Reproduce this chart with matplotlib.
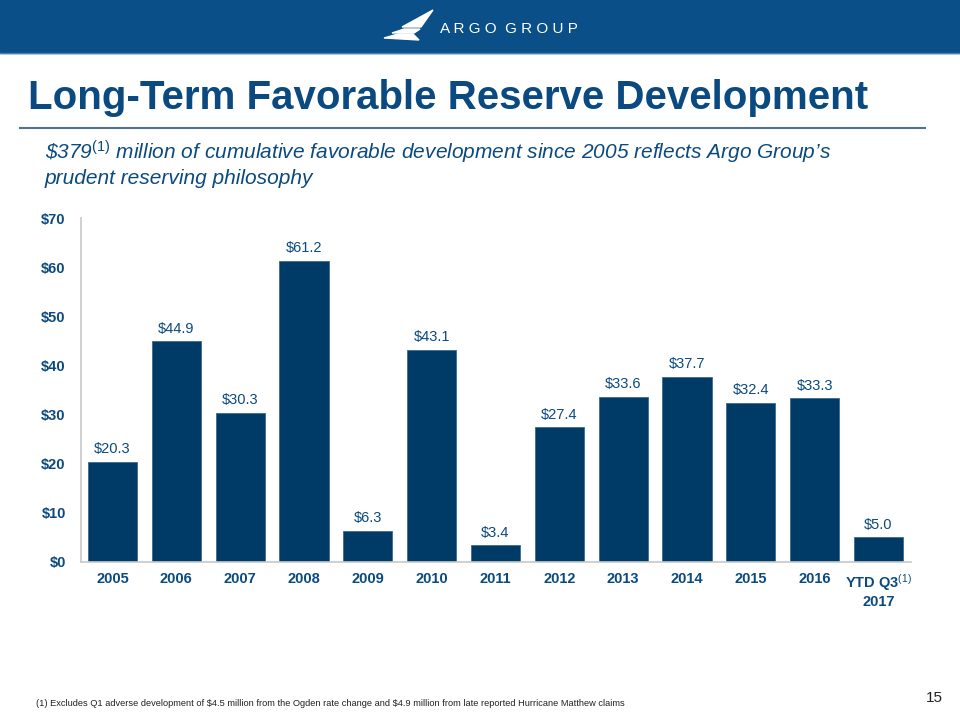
import matplotlib.pyplot as plt
from matplotlib.patches import Rectangle, Polygon
from matplotlib.lines import Line2D

plt.rcParams['font.family'] = ['Liberation Sans', 'DejaVu Sans']
plt.rcParams['mathtext.fontset'] = 'custom'
plt.rcParams['mathtext.rm'] = 'Liberation Sans'
plt.rcParams['mathtext.it'] = 'Liberation Sans:italic'
plt.rcParams['mathtext.bf'] = 'Liberation Sans:bold'

categories = ['2005', '2006', '2007', '2008', '2009', '2010', '2011', '2012',
              '2013', '2014', '2015', '2016', r'YTD Q3$^{\mathit{(1)}}$' + '\n2017']
values = [20.3, 44.9, 30.3, 61.2, 6.3, 43.1, 3.4, 27.4, 33.6, 37.7, 32.4, 33.3, 5.0]
yticks = [0, 10, 20, 30, 40, 50, 60, 70]

navy = '#003A66'
text_blue = '#0B4A80'

fig = plt.figure(figsize=(9.6, 7.2), dpi=100)

# header band
fig.patches.append(Rectangle((0, 1 - 53 / 720), 1, 53 / 720, transform=fig.transFigure,
                             color='#0A4F88', zorder=0))
fig.lines.append(Line2D([0, 1], [1 - 53 / 720, 1 - 53 / 720], transform=fig.transFigure,
                        color='#4A7FA8', lw=1))
# simple logo mark
for pts in [[(402, 27), (433, 10), (421, 27)],
            [(392, 33), (404, 29), (420, 29), (414, 33)],
            [(384, 38), (398, 34), (413, 34), (419, 40)]]:
    fig.patches.append(Polygon([(x / 960, 1 - y / 720) for x, y in pts], closed=True,
                               transform=fig.transFigure, color='white', zorder=1))
fig.text(440 / 960, 1 - 29 / 720, 'A R G O  G R O U P', color='white', fontsize=11,
         va='center', ha='left')

fig.text(28 / 960, 1 - 98 / 720, 'Long-Term Favorable Reserve Development', color=text_blue,
         fontsize=29, fontweight='bold', va='center', ha='left')
fig.lines.append(Line2D([20 / 960, 925 / 960], [1 - 128 / 720, 1 - 128 / 720],
                        transform=fig.transFigure, color='#4F7192', lw=1.5))
fig.text(45 / 960, 1 - 152 / 720,
         r"\$379$^{\mathit{(1)}}$ million of cumulative favorable development since 2005 reflects Argo Group’s",
         color=text_blue, fontsize=15, style='italic', va='center', ha='left')
fig.text(45 / 960, 1 - 178 / 720, 'prudent reserving philosophy',
         color=text_blue, fontsize=15, style='italic', va='center', ha='left')

ax = fig.add_axes([81 / 960, 1 - 562 / 720, 830 / 960, 344 / 720])
x = range(len(categories))
ax.bar(x, values, width=0.77, color=navy, edgecolor='#3A6A90', linewidth=0.6, zorder=2)
for xi, v in zip(x, values):
    ax.text(xi, v + 2.6, f'${v:.1f}', ha='center', va='center', color=text_blue, fontsize=10.5)

ax.set_xlim(-0.494, len(categories) - 0.49)
ax.set_ylim(0, 70)
ax.set_yticks(yticks)
ax.set_yticklabels([f'${t}' for t in yticks], color=text_blue, fontsize=10.5, fontweight='bold')
ax.set_xticks(list(x))
ax.set_xticklabels(categories, color=text_blue, fontsize=10.5, fontweight='bold')
ax.tick_params(axis='x', length=0, pad=7)
ax.tick_params(axis='y', length=0, pad=11)
for s in ['top', 'right']:
    ax.spines[s].set_visible(False)
for s in ['left', 'bottom']:
    ax.spines[s].set_color('#C8C8C8')
    ax.spines[s].set_linewidth(1.2)

fig.text(36 / 960, 1 - 704 / 720,
         r'(1) Excludes Q1 adverse development of \$4.5 million from the Ogden rate change and \$4.9 million from late reported Hurricane Matthew claims',
         fontsize=6.7, color='#222222', va='center', ha='left')
fig.text(943 / 960, 1 - 698 / 720, '15', fontsize=11, color='#222222', va='center', ha='right')

fig.savefig('out.png', dpi=100)
